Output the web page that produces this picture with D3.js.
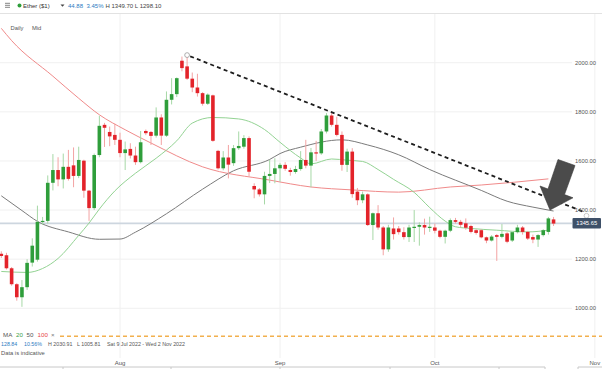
<!DOCTYPE html>
<html>
<head>
<meta charset="utf-8">
<script src="https://cdn.jsdelivr.net/npm/d3@7"></script>
<style>
    html, body { margin: 0; padding: 0; background: #fff; }
    svg { display: block; font-family: "Liberation Sans", Arial, sans-serif; }
</style>
</head>
<body>
<div id="chart"></div>
<script>
// Daily candles, Sat 9 Jul 2022 onwards (one entry per day)
const opens  = [1222,1216,1163,1098,1045,1086,1186,1198,1352,1356,1511,1563,1525,1576,1582,1539,1601,1479,1408,1624,
                1747,1718,1706,1686,1632,1649,1622,1595,1722,1718,1703,1777,1703,1849,1872,2008,1985,1935,1899,1876,
                1833,1867,1641,1570,1614,1591,1652,1658,1693,1498,1484,1464,1539,1547,1570,1584,1563,1555,1567,1604,
                1581,1635,1631,1720,1785,1747,1706,1584,1638,1475,1440,1464,1339,1387,1329,1240,1325,1325,1310,1290,
                1328,1332,1339,1329,1329,1316,1291,1316,1359,1352,1346,1335,1318,1318,1289,1276,1298,1291,1305,1276,
                1310,1329,1311,1290,1280,1298,1311,1362];
const highs  = [1232,1226,1168,1102,1115,1200,1285,1418,1372,1541,1628,1615,1630,1645,1655,1658,1605,1482,1630,1784,
                1755,1740,1752,1715,1679,1672,1658,1722,1728,1722,1818,1790,1883,1937,1940,2025,2031,1960,1955,1880,
                1875,1870,1645,1640,1665,1665,1720,1705,1700,1509,1490,1556,1604,1611,1592,1595,1572,1580,1640,1686,
                1653,1682,1730,1795,1795,1780,1720,1650,1652,1490,1475,1468,1390,1420,1335,1340,1370,1335,1330,1340,
                1400,1350,1365,1373,1345,1320,1320,1366,1368,1360,1366,1340,1322,1322,1292,1298,1302,1343,1310,1300,
                1340,1335,1315,1300,1302,1322,1372,1372];
const lows   = [1205,1158,1092,1031,1006,1075,1170,1190,1340,1345,1480,1497,1488,1520,1493,1530,1450,1356,1400,1615,
                1657,1660,1665,1615,1563,1610,1584,1590,1705,1665,1695,1665,1698,1830,1860,1965,1930,1880,1862,1825,
                1828,1678,1565,1562,1529,1580,1645,1650,1536,1448,1455,1423,1510,1509,1515,1560,1540,1548,1560,1570,
                1493,1600,1625,1712,1740,1700,1560,1555,1450,1420,1428,1335,1278,1320,1216,1230,1280,1300,1280,1270,
                1270,1255,1300,1311,1305,1285,1264,1310,1345,1330,1320,1305,1300,1285,1265,1272,1193,1285,1265,1270,
                1305,1300,1278,1265,1250,1292,1300,1335];
const closes = [1213,1163,1098,1045,1086,1185,1255,1352,1356,1511,1563,1525,1576,1527,1539,1604,1479,1408,1624,1743,
                1735,1700,1686,1632,1647,1622,1595,1676,1713,1702,1777,1703,1849,1872,1937,1978,1935,1899,1876,1833,
                1870,1682,1570,1614,1585,1652,1661,1693,1556,1484,1464,1539,1547,1570,1584,1568,1555,1567,1604,1581,
                1635,1631,1720,1785,1747,1706,1584,1638,1465,1440,1464,1339,1387,1329,1240,1329,1302,1310,1290,1329,
                1332,1339,1329,1332,1316,1291,1316,1359,1352,1340,1328,1311,1307,1289,1276,1292,1291,1303,1271,1310,
                1329,1311,1284,1280,1298,1318,1366,1345];

// moving averages (day index -> value)
const ma20Days  = [0, 5, 8, 11, 15, 17, 19, 22, 26, 30, 34, 37, 41, 46, 51, 54, 58, 60, 64, 67, 70, 73, 76, 80, 83, 86, 88, 91, 96, 102, 106];
const ma20Vals  = [1150,1146,1162,1203,1297,1347,1404,1478,1550,1611,1682,1754,1777,1771,1728,1676,1612,1588,1608,1603,1598,1565,1525,1472,1410,1355,1332,1325,1318,1311,1318];
const ma50Days  = [0, 4, 7, 13, 19, 23, 26, 32, 39, 45, 52, 54, 58, 66, 71, 77, 83, 93, 98, 103, 107];
const ma50Vals  = [1458,1398,1354,1311,1281,1282,1310,1385,1485,1560,1606,1630,1656,1686,1665,1625,1565,1480,1436,1412,1396];
const ma100Days = [0, 2, 10, 15, 19, 24, 29, 39, 52, 60, 68, 77, 87, 93, 106];
const ma100Vals = [2140,2090,1945,1855,1788,1727,1673,1576,1522,1494,1482,1473,1494,1502,1527];

// trend line drawn from the August high
const trendDays = [36.6, 112.8];
const trendVals = [2026, 1393];

const priceTicks = [1000, 1200, 1400, 1600, 1800, 2000];
const lastPrice = 1345.65;
const orangeLevel = 886;

const width = 602, height = 369;
const startDay = new Date(Date.UTC(2022, 6, 9));
const endDay = new Date(Date.UTC(2022, 10, 2));
const dayDate = i => new Date(startDay.getTime() + i * 864e5);

const candles = opens.map((o, i) => ({
    date: dayDate(i), open: o, high: highs[i], low: lows[i], close: closes[i]
}));

const x = d3.scaleUtc().domain([startDay, endDay]).range([1.3, 600]);
const y = d3.scaleLinear().domain([1000, 2000]).range([308.3, 62.7]);

const colors = {
    up: '#2f9e3b', down: '#e3232a',
    upWick: '#a6d8a6', downWick: '#f3a3a3',
    ma20: '#93d393', ma50: '#7b7b7b', ma100: '#f08a8a',
    grid: '#f0f0f0', text: '#555', blue: '#2c7bbf'
};

const svg = d3.select('#chart').append('svg')
    .attr('width', width).attr('height', height);

svg.append('defs').append('clipPath').attr('id', 'plot')
    .append('rect').attr('x', 0).attr('y', 14).attr('width', 572).attr('height', 320);

// header
const header = svg.append('g').attr('font-size', 6);
header.append('g').attr('stroke', '#666').attr('stroke-width', 0.8)
    .selectAll('line').data([3.3, 5.3, 7.3]).join('line')
    .attr('x1', 5).attr('x2', 10).attr('y1', d => d).attr('y2', d => d);
header.append('circle').attr('cx', 19.5).attr('cy', 5.4).attr('r', 2).attr('fill', '#2e9e3a');
header.append('text').attr('x', 23).attr('y', 7.6).attr('fill', '#333').text('Ether ($1)');
header.append('path').attr('d', 'M60.5,4.4 L64.5,4.4 L62.5,6.8 Z').attr('fill', '#444');
header.append('text').attr('x', 68).attr('y', 7.6).attr('fill', colors.blue).text('44.88');
header.append('text').attr('x', 86.5).attr('y', 7.6).attr('fill', colors.blue).text('3.45%');
header.append('text').attr('x', 105.5).attr('y', 7.6).attr('fill', '#444').text('H 1349.70  L 1298.10');
svg.append('line').attr('x1', 0).attr('x2', width).attr('y1', 13.5).attr('y2', 13.5)
    .attr('stroke', '#e2e2e2');

// grid
const months = x.ticks(d3.utcMonth.every(1));
svg.append('g').selectAll('line').data(months).join('line')
    .attr('x1', d => x(d)).attr('x2', d => x(d)).attr('y1', 14).attr('y2', 358)
    .attr('stroke', colors.grid);
svg.append('g').selectAll('line').data(priceTicks).join('line')
    .attr('x1', 0).attr('x2', 572).attr('y1', d => y(d)).attr('y2', d => y(d))
    .attr('stroke', colors.grid);

svg.append('text').attr('x', 10.5).attr('y', 30).attr('font-size', 5.8).attr('fill', colors.text).text('Daily');
svg.append('text').attr('x', 32).attr('y', 30).attr('font-size', 5.8).attr('fill', colors.text).text('Mid');

// last price line
svg.append('line').attr('x1', 0).attr('x2', 572).attr('y1', y(lastPrice)).attr('y2', y(lastPrice))
    .attr('stroke', '#cdd6df').attr('stroke-width', 1.6);

const plot = svg.append('g').attr('clip-path', 'url(#plot)');

// moving averages
const maLine = d3.line().x(d => x(dayDate(d[0]))).y(d => y(d[1])).curve(d3.curveMonotoneX);
[[ma100Days, ma100Vals, colors.ma100], [ma50Days, ma50Vals, colors.ma50], [ma20Days, ma20Vals, colors.ma20]]
    .forEach(([days, vals, col]) => {
        plot.append('path')
            .datum(days.map((d, i) => [d, vals[i]]))
            .attr('d', maLine)
            .attr('fill', 'none').attr('stroke', col).attr('stroke-width', 1);
    });

// candles
const bodyW = 3.6;
const candleG = plot.append('g').selectAll('g').data(candles).join('g');
candleG.append('line')
    .attr('x1', d => x(d.date)).attr('x2', d => x(d.date))
    .attr('y1', d => y(d.high)).attr('y2', d => y(d.low))
    .attr('stroke', d => d.close >= d.open ? colors.upWick : colors.downWick)
    .attr('stroke-width', 1);
candleG.append('rect')
    .attr('x', d => x(d.date) - bodyW / 2).attr('width', bodyW)
    .attr('y', d => y(Math.max(d.open, d.close)))
    .attr('height', d => Math.max(1.2, Math.abs(y(d.open) - y(d.close))))
    .attr('fill', d => d.close >= d.open ? colors.up : colors.down);

// trend line
const trendPts = trendDays.map((d, i) => [x(dayDate(d)), y(trendVals[i])]);
svg.append('line')
    .attr('x1', trendPts[0][0]).attr('y1', trendPts[0][1])
    .attr('x2', trendPts[1][0]).attr('y2', trendPts[1][1])
    .attr('stroke', '#1e1e1e').attr('stroke-width', 1.8).attr('stroke-dasharray', '4,3.2');
svg.append('circle').attr('cx', x(dayDate(36))).attr('cy', y(2031)).attr('r', 2.4)
    .attr('fill', '#fff').attr('stroke', '#999').attr('stroke-width', 0.8);
svg.append('circle').attr('cx', trendPts[1][0] + 3).attr('cy', trendPts[1][1] + 4).attr('r', 2.4)
    .attr('fill', '#fff').attr('stroke', '#bbb').attr('stroke-width', 0.8);

// big arrow pointing to the break
svg.append('path')
    .attr('d', 'M558,159.5 L575,165.5 L564.5,194.6 L573,197.8 L550,210 L540,186 L548,189 Z')
    .attr('fill', '#4b4b4b').attr('stroke', '#3a3a3a').attr('stroke-width', 0.6);

// price axis
svg.append('g').selectAll('text').data(priceTicks).join('text')
    .attr('x', 596).attr('y', d => y(d) + 2)
    .attr('text-anchor', 'end').attr('font-size', 5.8).attr('fill', colors.text)
    .text(d => d3.format('.2f')(d));
svg.append('rect').attr('x', 572.5).attr('y', y(lastPrice) - 5.5).attr('width', 28.5).attr('height', 10.5)
    .attr('rx', 1).attr('fill', '#3e5068');
svg.append('text').attr('x', 586.7).attr('y', y(lastPrice) + 2).attr('text-anchor', 'middle')
    .attr('font-size', 5.8).attr('fill', '#fff').text(d3.format('.2f')(lastPrice));

// orange level
svg.append('line').attr('x1', 60).attr('x2', width).attr('y1', y(orangeLevel)).attr('y2', y(orangeLevel))
    .attr('stroke', '#f2b04e').attr('stroke-width', 1.5).attr('stroke-dasharray', '4,3');

// legend lines at the bottom
const legend = svg.append('g').attr('font-size', 6.2);
const maLabels = [['MA', 3, '#555'], ['20', 16, '#3aa34a'], ['50', 26.5, '#555'], ['100', 37.5, '#e8474a'], ['\u00d7', 51, '#777']];
legend.selectAll('text.ma').data(maLabels).join('text').attr('class', 'ma')
    .attr('x', d => d[1]).attr('y', 337).attr('fill', d => d[2]).text(d => d[0]);

const info = [['128.84', 1, colors.blue], ['10.56%', 24, colors.blue], ['H 2030.91', 48, '#555'],
              ['L 1005.81', 77, '#555'], ['Sat 9 Jul 2022 - Wed 2 Nov 2022', 107, '#555']];
legend.selectAll('text.info').data(info).join('text').attr('class', 'info')
    .attr('x', d => d[1]).attr('y', 346).attr('font-size', 5.3).attr('fill', d => d[2]).text(d => d[0]);
legend.append('text').attr('x', 1).attr('y', 354.5).attr('font-size', 5.8).attr('fill', '#555')
    .text('Data is indicative');

// time axis
svg.append('g').selectAll('text').data(months).join('text')
    .attr('x', d => x(d)).attr('y', 364.5).attr('text-anchor', 'middle')
    .attr('font-size', 6).attr('fill', colors.text)
    .text(d => d3.utcFormat('%b')(d));
svg.append('line').attr('x1', 0).attr('x2', 545).attr('y1', 367).attr('y2', 367).attr('stroke', '#c8c8c8');
svg.append('line').attr('x1', 578).attr('x2', width).attr('y1', 367).attr('y2', 367).attr('stroke', '#c8c8c8');
svg.append('g').selectAll('line').data([63, 171, 280, 390, 499, 545, 578]).join('line')
    .attr('x1', d => d).attr('x2', d => d).attr('y1', 367).attr('y2', 369).attr('stroke', '#c8c8c8');
</script>
</body>
</html>
